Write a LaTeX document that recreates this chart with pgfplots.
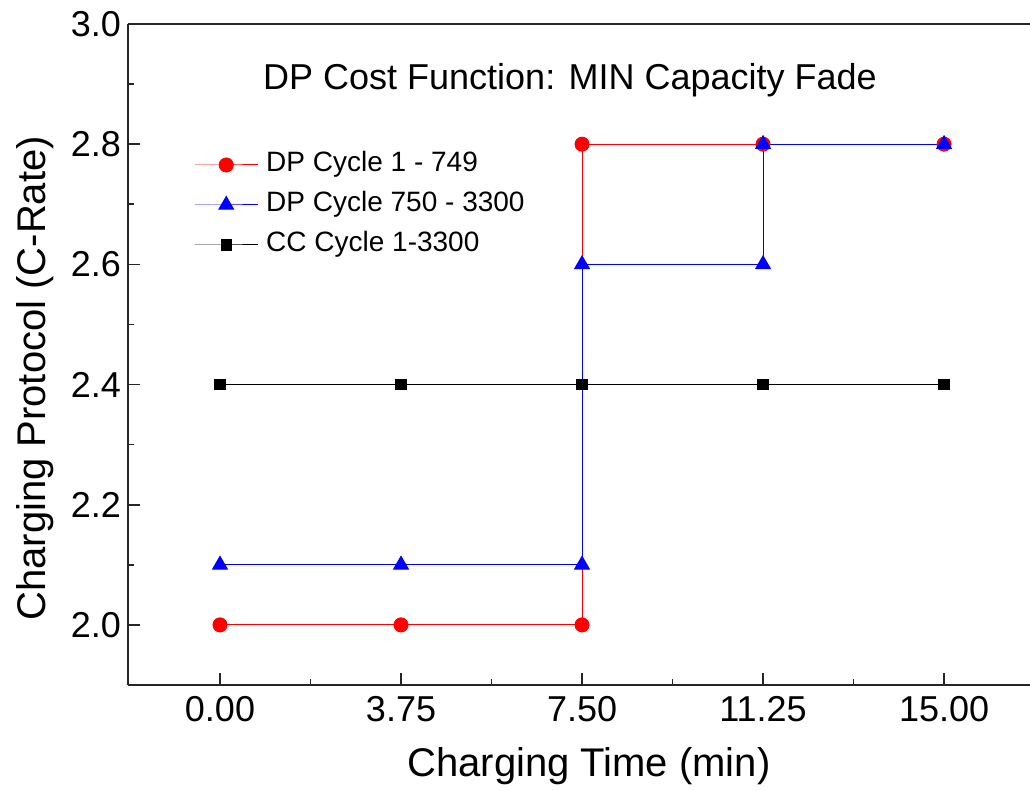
\documentclass[border=0pt]{standalone}
\usepackage{pgfplots}
\pgfplotsset{compat=1.18}
\usepackage{fontspec}
\setmainfont{Liberation Sans}
\begin{document}
\begin{tikzpicture}
\begin{axis}[
  at={(0pt,0pt)}, anchor=south west,
  scale only axis,
  width=451pt, height=330.5pt,
  xmin=-1.906, xmax=16.78,
  ymin=1.9, ymax=3.0,
  axis x line*=bottom, axis y line*=left,
  axis line style={-, line width=1pt, draw=black!85},
  tick align=inside,
  major tick length=6pt, minor tick length=3pt,
  every tick/.style={line width=0.8pt, black!85},
  xtick={0,3.75,7.5,11.25,15},
  minor xtick={1.875,5.625,9.375,13.125},
  ytick={2.0,2.2,2.4,2.6,2.8,3.0},
  minor ytick={2.1,2.3,2.5,2.7,2.9},
  /pgf/number format/assume math mode=true,
  xticklabel style={/pgf/number format/fixed, /pgf/number format/fixed zerofill, /pgf/number format/precision=2, yshift=-2pt},
  yticklabel style={/pgf/number format/fixed, /pgf/number format/fixed zerofill, /pgf/number format/precision=1},
  tick label style={font=\fontsize{18}{21}\selectfont},
  xlabel={Charging Time (min)},
  ylabel={Charging Protocol (C-Rate)},
  label style={font=\fontsize{20}{24}\selectfont},
  xlabel style={at={(axis description cs:0.511,-0.1225)}, anchor=center},
  ylabel style={at={(axis description cs:-0.103,0.464)}, anchor=center},
  legend style={at={(axis description cs:0.073,0.81)}, anchor=north west, draw=none, fill=none,
    font=\fontsize{14}{16}\selectfont, row sep=5pt, inner sep=0pt,
    nodes={inner sep=1pt, text height=10pt, text depth=3pt},
    /tikz/every odd column/.append style={column sep=3pt}},
  legend cell align=left,
  legend image code/.code={\draw[mark repeat=2, mark phase=2] plot coordinates {(0pt,0pt) (15.75pt,0pt) (31.5pt,0pt)};},
  clip=false,
]
\addplot[red, line width=0.5pt, mark=*, mark size=3.5pt, mark options={solid, fill=red, draw=red}]
  coordinates {(0,2.0) (3.75,2.0) (7.5,2.0) (7.5,2.8) (11.25,2.8) (15,2.8)};
\addlegendentry{DP Cycle 1 - 749}
\addplot[blue, line width=0.5pt, mark=triangle*, mark size=4.2pt, mark options={solid, fill=blue, draw=blue}]
  coordinates {(0,2.1) (3.75,2.1) (7.5,2.1) (7.5,2.6) (11.25,2.6) (11.25,2.8) (15,2.8)};
\addlegendentry{DP Cycle 750 - 3300}
\addplot[black, line width=0.5pt, mark=square*, mark size=2.6pt, mark options={solid, fill=black, draw=black}]
  coordinates {(0,2.4) (3.75,2.4) (7.5,2.4) (11.25,2.4) (15,2.4)};
\addlegendentry{CC Cycle 1-3300}
\draw[line width=1pt, black!85] (rel axis cs:0,1) -- (rel axis cs:1,1);
\node[font=\fontsize{18}{21}\selectfont, anchor=center] at (axis description cs:0.49,0.915) {DP Cost Function: MIN Capacity Fade};
\end{axis}
\pgfresetboundingbox
\path[use as bounding box] (-64pt,-53pt) rectangle (451pt,342.5pt);
\end{tikzpicture}
\end{document}
